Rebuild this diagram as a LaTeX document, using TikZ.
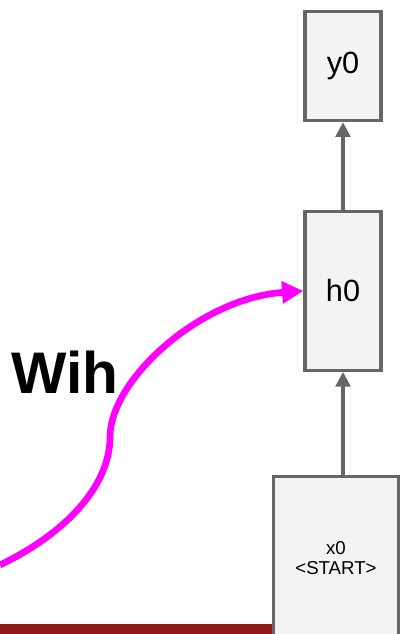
\documentclass[tikz,border=0pt]{standalone}
\usepackage{fontspec}
\setmainfont{Liberation Sans}
\usepackage{tikz}
\usetikzlibrary{arrows.meta,positioning,calc}

\definecolor{boxgray}{HTML}{666666}
\definecolor{boxfill}{HTML}{F3F3F3}
\definecolor{wihpink}{HTML}{FF00FF}
\definecolor{barred}{HTML}{8E1717}

\tikzset{
  cell/.style={draw=boxgray,fill=boxfill,line width=2.4pt,inner sep=0pt,
    minimum width=57pt,font=\fontsize{23}{26}\selectfont},
  feed/.style={draw=boxgray,line width=2.4pt,-{Triangle[length=11pt,width=11pt]}},
  weight/.style={draw=wihpink,line width=5pt,-{Triangle[length=16pt,width=16pt]}}
}

\begin{document}
\begin{tikzpicture}[x=0.75pt,y=-0.75pt]
  \clip (0,0) rectangle (403,634);
  % bottom bar
  \fill[barred] (0,624) rectangle (272,634);
  % cells
  \node[cell,minimum height=82pt] (y0) at (343,66) {y0};
  \node[cell,minimum height=119pt] (h0) at (343,291) {h0};
  \node[cell,minimum width=94pt,minimum height=122pt,align=center,
    font=\fontsize{14}{15.5}\selectfont] (x0) at (336,558) {x0\\<START>};
  \draw[feed] (x0.north -| h0.south) -- (h0.south);
  \draw[feed] (h0.north) -- (y0.south);
  % input weight curve
  \coordinate (wstart) at (0,565);
  \coordinate (wmid) at (110,437);
  \draw[weight] (wstart) .. controls (72,530) and (110,482) .. (wmid)
    .. controls (110,380) and (200,298) .. (h0.west);
  \node[anchor=base west,inner sep=0pt,font=\fontsize{44}{50}\selectfont\bfseries] (wih) at (11,393) {Wih};
\end{tikzpicture}
\end{document}
